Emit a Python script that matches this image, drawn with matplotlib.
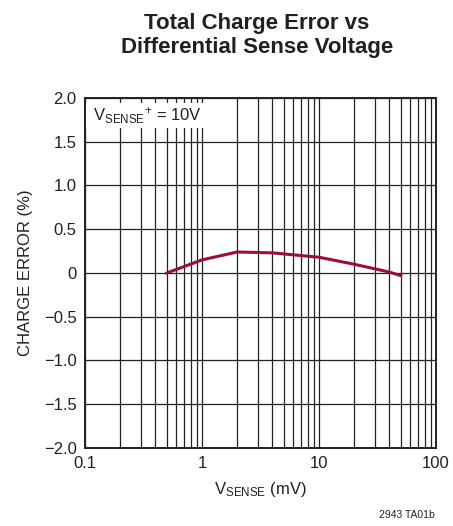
import numpy as np
import matplotlib.pyplot as plt
from matplotlib.patches import Rectangle
from matplotlib.ticker import FixedLocator, NullFormatter

# data
vsense_mv = [0.5, 1.0, 2.0, 4.0, 10.0, 20.0, 40.0, 50.0]
charge_error = [0.0, 0.15, 0.24, 0.23, 0.18, 0.10, 0.01, -0.03]

x_ticks = [0.1, 1, 10, 100]
x_labels = ["0.1", "1", "10", "100"]
y_ticks = [-2.0, -1.5, -1.0, -0.5, 0.0, 0.5, 1.0, 1.5, 2.0]
y_labels = ["\u22122.0", "\u22121.5", "\u22121.0", "\u22120.5", "0", "0.5", "1.0", "1.5", "2.0"]

FONT = ["Liberation Sans Narrow", "Liberation Sans", "DejaVu Sans"]
plt.rcParams['font.family'] = FONT
plt.rcParams['mathtext.fontset'] = 'custom'
plt.rcParams['mathtext.rm'] = 'Liberation Sans'
plt.rcParams['mathtext.it'] = 'Liberation Sans'

fig = plt.figure(figsize=(4.53, 5.26), dpi=100)
ax = fig.add_axes([0.1876, 0.1483, 0.775, 0.6654])

ax.set_xscale('log')
ax.set_xlim(0.1, 100)
ax.set_ylim(-2.0, 2.0)

# grid on every minor decade line and every 0.5 step
minor = [m * d for d in [0.1, 1, 10] for m in range(2, 10)]
ax.xaxis.set_major_locator(FixedLocator(x_ticks))
ax.xaxis.set_minor_locator(FixedLocator(minor))
ax.xaxis.set_minor_formatter(NullFormatter())
ax.set_xticklabels(x_labels)
ax.set_yticks(y_ticks)
ax.set_yticklabels(y_labels)
ax.grid(True, which='both', color='#222222', linewidth=0.9)
ax.set_axisbelow(True)
ax.tick_params(which='both', length=0, labelsize=12, pad=6, colors='#231f20')

for s in ax.spines.values():
    s.set_linewidth(1.4)
    s.set_color('#231f20')

ax.plot(vsense_mv, charge_error, color='#9b0d3a', linewidth=2.2, zorder=3)

# white label panel that hides the grid behind the condition text
ax.add_patch(Rectangle((0.0, 0.914), 0.356, 0.072, transform=ax.transAxes,
                       facecolor='white', edgecolor='none', zorder=1))
ax.text(0.022, 0.95, r"V$_{\mathrm{SENSE}}$$^{+}$ = 10V", transform=ax.transAxes,
        ha='left', va='center', fontsize=12, color='#231f20', zorder=1.5)

ax.set_ylabel("CHARGE ERROR (%)", fontsize=12, color='#231f20', labelpad=8)
ax.set_xlabel(r"V$_{\mathrm{SENSE}}$ (mV)", fontsize=12, color='#231f20', labelpad=6)

fig.text(0.567, 0.975, "Total Charge Error vs\nDifferential Sense Voltage",
         ha='center', va='top', fontsize=16, fontweight='bold', color='#231f20',
         linespacing=1.2)
fig.text(0.96, 0.012, "2943 TA01b", ha='right', va='bottom', fontsize=7.5, color='#231f20')

fig.savefig("out.png", dpi=100, facecolor='white')
